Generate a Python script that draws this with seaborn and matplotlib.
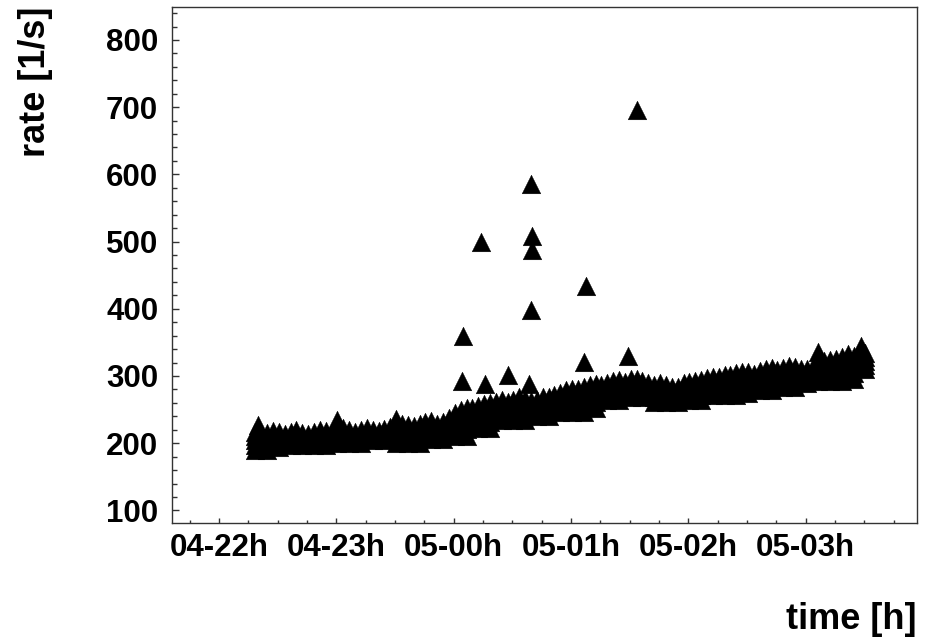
import numpy as np
import pandas as pd
import matplotlib
matplotlib.use("Agg")
import matplotlib.pyplot as plt
from matplotlib.ticker import MultipleLocator
import seaborn as sns

# time in hours since 04-22 22:00
t_band = [0.31, 0.41, 0.51, 0.61, 0.71, 0.81, 0.91, 1.01, 1.11, 1.21,
          1.31, 1.41, 1.51, 1.61, 1.71, 1.81, 1.91, 2.01, 2.11, 2.21,
          2.31, 2.41, 2.51, 2.61, 2.71, 2.81, 2.91, 3.01, 3.11, 3.21,
          3.31, 3.41, 3.51, 3.61, 3.71, 3.81, 3.91, 4.01, 4.11, 4.21,
          4.31, 4.41, 4.51, 4.61, 4.71, 4.81, 4.91, 5.01, 5.11, 5.21,
          5.31, 5.41, 5.51]
rate_1 = [190, 190, 194, 197, 197, 197, 197, 201, 201, 201,
          205, 205, 200, 200, 200, 206, 206, 210, 210, 222,
          222, 234, 234, 234, 241, 241, 246, 246, 246, 252,
          264, 264, 268, 268, 261, 261, 261, 265, 265, 272,
          272, 272, 274, 279, 279, 283, 283, 289, 292, 292,
          292, 296, 310]
rate_2 = [197, 196, 200, 202, 202, 202, 202, 206, 206, 206,
          209, 209, 206, 207, 207, 213, 212, 219, 221, 230,
          232, 242, 242, 242, 247, 248, 253, 255, 256, 261,
          271, 272, 275, 274, 268, 268, 267, 272, 272, 279,
          280, 280, 282, 286, 287, 290, 291, 294, 299, 300,
          301, 305, 316]
rate_3 = [204, 203, 205, 207, 206, 207, 208, 210, 210, 211,
          212, 213, 211, 214, 215, 220, 219, 228, 232, 239,
          241, 250, 250, 250, 253, 255, 261, 263, 265, 270,
          277, 279, 282, 281, 274, 274, 273, 278, 280, 285,
          287, 288, 290, 293, 296, 298, 299, 300, 305, 308,
          310, 313, 322]
rate_4 = [210, 209, 211, 212, 211, 212, 213, 215, 215, 215,
          216, 217, 217, 220, 222, 226, 225, 236, 242, 247,
          251, 257, 257, 258, 259, 261, 268, 272, 275, 279,
          284, 287, 288, 287, 281, 281, 278, 285, 287, 292,
          295, 296, 298, 300, 304, 305, 306, 305, 312, 316,
          319, 322, 328]
rate_5 = [217, 215, 216, 217, 215, 217, 218, 219, 219, 220,
          219, 221, 222, 227, 229, 233, 231, 245, 253, 255,
          260, 265, 265, 266, 265, 268, 275, 280, 284, 288,
          290, 294, 295, 293, 287, 287, 284, 291, 294, 298,
          302, 304, 306, 307, 312, 312, 314, 310, 318, 324,
          328, 330, 334]

# readings in between, near the top of the band
t_mid = [0.36, 0.46, 0.56, 0.66, 0.76, 0.86, 0.96, 1.06, 1.16, 1.26,
         1.36, 1.46, 1.56, 1.66, 1.76, 1.86, 1.96, 2.06, 2.16, 2.26,
         2.36, 2.46, 2.56, 2.66, 2.76, 2.86, 2.96, 3.06, 3.16, 3.26,
         3.36, 3.46, 3.56, 3.66, 3.76, 3.86, 3.96, 4.06, 4.16, 4.26,
         4.36, 4.46, 4.56, 4.66, 4.76, 4.86, 4.96, 5.06, 5.16, 5.26,
         5.36, 5.46]
rate_mid = [213, 218, 214, 219, 213, 220, 216, 222, 217, 223,
            218, 224, 228, 225, 232, 229, 238, 250, 252, 258,
            261, 262, 268, 263, 269, 271, 279, 281, 287, 286,
            293, 291, 296, 290, 289, 283, 290, 292, 297, 299,
            301, 306, 303, 311, 309, 315, 311, 314, 322, 326,
            333, 331]

# single readings sticking out of the band top
t_peak = [0.33, 1.01, 1.51, 5.11, 5.47]
rate_peak = [227, 234, 236, 336, 344]

# isolated high readings
t_spike = [2.07, 2.27, 2.46, 2.64, 3.11, 3.49, 2.08, 2.23, 2.66, 2.67,
           2.67, 2.66, 3.13, 3.56]
rate_spike = [293, 288, 301, 288, 321, 330, 360, 500, 586, 509,
              488, 398, 434, 696]

hour_ticks = [0, 1, 2, 3, 4, 5]
hour_labels = ["04-22h", "04-23h", "05-00h", "05-01h", "05-02h", "05-03h"]

df = pd.DataFrame({
    "t": t_band * 5 + t_mid + t_peak + t_spike,
    "rate": rate_1 + rate_2 + rate_3 + rate_4 + rate_5 + rate_mid + rate_peak + rate_spike,
})

sns.set_theme(style="white")
plt.rcParams["font.family"] = ["Liberation Sans", "DejaVu Sans"]
plt.rcParams["font.weight"] = "bold"

fig = plt.figure(figsize=(9.3, 6.38), dpi=100)
ax = fig.add_axes([0.185, 0.180, 0.801, 0.809])

sns.scatterplot(data=df, x="t", y="rate", marker="^", s=180, color="black",
                edgecolor="black", linewidth=0.3, legend=False, ax=ax)

ax.set_xlim(-0.40, 5.95)
ax.set_ylim(81, 849)

ax.set_xticks(hour_ticks, hour_labels)
ax.xaxis.set_minor_locator(MultipleLocator(0.25))
ax.yaxis.set_major_locator(MultipleLocator(100))
ax.yaxis.set_minor_locator(MultipleLocator(20))

frame = "#333333"
for sp in ax.spines.values():
    sp.set_color(frame); sp.set_linewidth(1.0); sp.set_visible(True)

ax.tick_params(axis="both", which="both", direction="in", top=False, right=False,
               bottom=True, left=True, color=frame, width=1.0, labelsize=22.5,
               labelcolor="black")
ax.tick_params(axis="y", which="major", length=5, pad=10)
ax.tick_params(axis="y", which="minor", length=3.4)
ax.tick_params(axis="x", which="major", length=3.6, pad=7)
ax.tick_params(axis="x", which="minor", length=2)
for lab in ax.get_xticklabels() + ax.get_yticklabels():
    lab.set_fontweight("bold")

ax.set_xlabel("time [h]", fontsize=26, fontweight="bold", loc="right", color="black")
ax.set_ylabel("rate [1/s]", fontsize=26, fontweight="bold", loc="top", color="black")
ax.xaxis.set_label_coords(1.0, -0.152)
ax.yaxis.set_label_coords(-0.16, 1.0)

fig.savefig("out.png", dpi=100)
plt.close(fig)
